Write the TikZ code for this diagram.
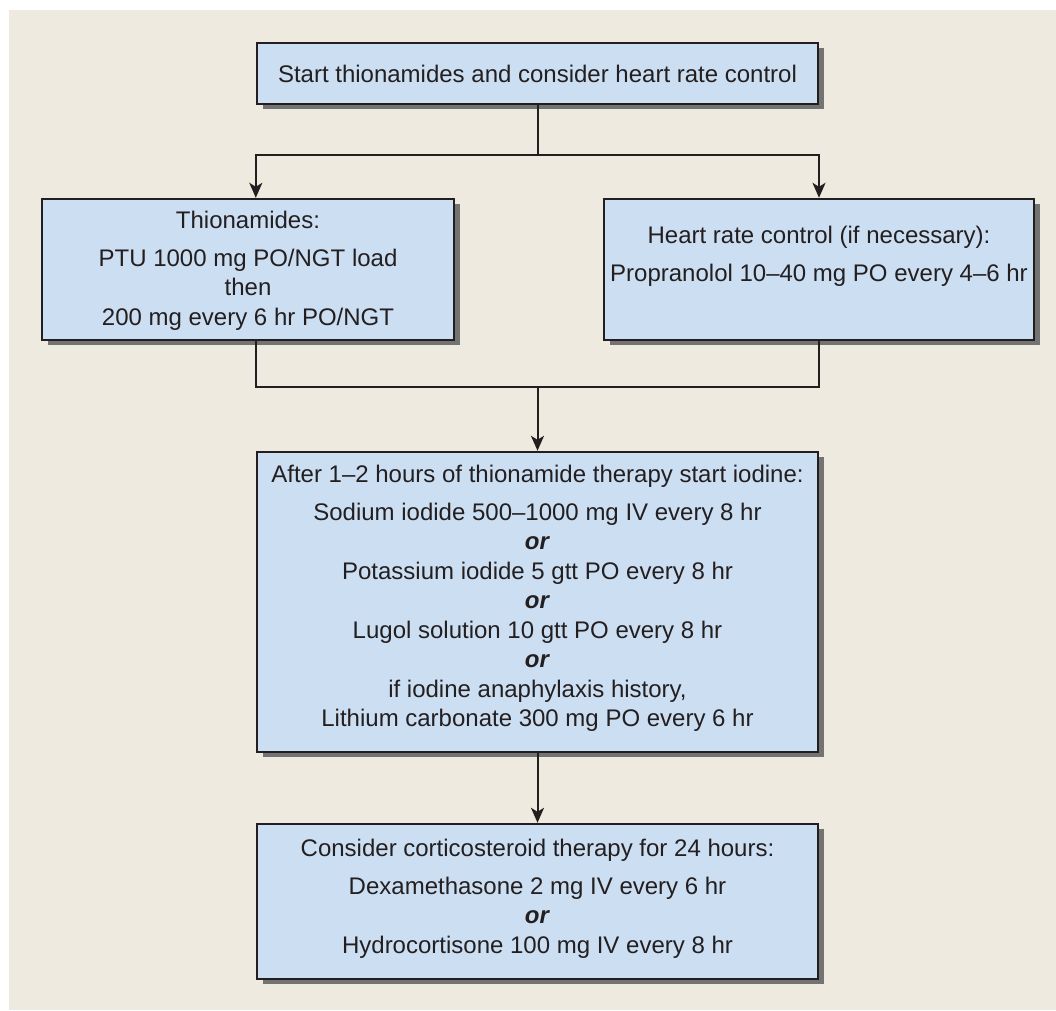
\documentclass[tikz,border=0pt]{standalone}
\usepackage{fontspec}
\setmainfont{Liberation Sans}
\usepackage{xcolor}
\usepackage{tikz}
\usetikzlibrary{arrows.meta, positioning, shadows}
\definecolor{mybeige}{RGB}{239,234,224}
\definecolor{myblue}{RGB}{204,222,242}
\definecolor{myink}{RGB}{35,31,32}
\tikzstyle{stepbox} = [draw=myink, line width=2.4pt, fill=myblue, inner sep=0pt, drop shadow={shadow xshift=6pt, shadow yshift=-5pt, fill=black!55, opacity=1}]
\tikzstyle{txt} = [align=center, inner sep=0pt, text=myink, font=\fontsize{24}{29.5}\selectfont]
\tikzstyle{link} = [line width=2pt, draw=myink]
\tikzstyle{arrow} = [line width=2pt, draw=myink, -{Stealth[length=15pt, width=13pt, inset=4pt]}]
\newcommand{\orword}{\textbf{\textit{or}}}

\begin{document}
\begin{tikzpicture}[x=1pt, y=-1pt]
    \useasboundingbox (0,0) rectangle (1056,1010);
    \fill[mybeige] (9,10) rectangle (1056,1010);
    % boxes
    \node[stepbox, txt, minimum width=561pt, minimum height=61pt] (start) at (537.5,73.5) {Start thionamides and consider heart rate control};
    \node[stepbox, minimum width=412pt, minimum height=141pt] (thio) at (248,269.5) {};
    \node[stepbox, minimum width=430pt, minimum height=141pt] (heart) at (819,269.5) {};
    \node[stepbox, minimum width=561pt, minimum height=300pt] (iodine) at (537.5,602) {};
    \node[stepbox, minimum width=561pt, minimum height=155pt] (steroid) at (537.5,901.5) {};
    % texts
    \node[txt, below=13pt of thio.north] (thiotxt) {Thionamides:\\[8.5pt] PTU 1000 mg PO/NGT load\\ then\\ 200 mg every 6 hr PO/NGT};
    \node[txt, below=28pt of heart.north] (hearttxt) {Heart rate control (if necessary):\\[8.5pt] Propranolol 10–40 mg PO every 4–6 hr};
    \node[txt, below=14pt of iodine.north] (iodinetxt) {After 1–2 hours of thionamide therapy start iodine:\\[8.5pt]
        Sodium iodide 500–1000 mg IV every 8 hr\\ \orword\\
        Potassium iodide 5 gtt PO every 8 hr\\ \orword\\
        Lugol solution 10 gtt PO every 8 hr\\ \orword\\
        if iodine anaphylaxis history,\\ Lithium carbonate 300 mg PO every 6 hr};
    \node[txt, below=16pt of steroid.north] (steroidtxt) {Consider corticosteroid therapy for 24 hours:\\[8.5pt]
        Dexamethasone 2 mg IV every 6 hr\\ \orword\\ Hydrocortisone 100 mg IV every 8 hr};
    % connectors
    \draw[link] (start.south) -- ++(0,50) coordinate (fork);
    \draw[arrow] (fork) -| (start.west |- thio.north);
    \draw[arrow] (fork) -| (heart.north);
    \coordinate (merge) at (537.5,387);
    \draw[link] (start.west |- thio.south) |- (merge) -| (start.east |- heart.south);
    \draw[arrow] (merge) -- (iodine.north);
    \draw[arrow] (iodine.south) -- (steroid.north);
\end{tikzpicture}
\end{document}
